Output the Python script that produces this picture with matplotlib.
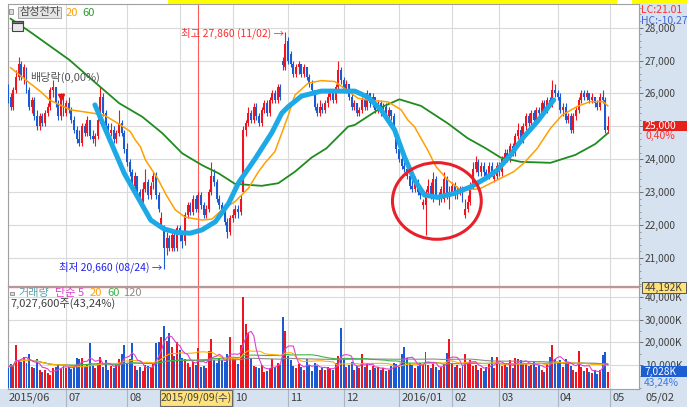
import matplotlib.pyplot as plt
import matplotlib.patches as mpatches
import matplotlib.transforms as mtransforms
from matplotlib.ticker import FuncFormatter, MultipleLocator
import numpy as np
import pandas as pd

# ==========================================
# 1. 데이터 (차트에서 읽은 값, 일봉 2015/06 ~ 2016/04)
# ==========================================
opens = [
    26100, 25900, 25600, 26100, 26500, 26900, 26500, 26700, 26100, 25600, 25800, 25300, 25000, 25300, 25100, 25400, 25600, 26100, 26200, 25700, 25300, 25900,
    25400, 25700, 25500, 25200, 24900, 24600, 24500, 25000, 24800, 25200, 24700, 24600, 24700, 25200, 25900, 25400, 25000, 24800, 24900, 24600, 24800, 25100, 24800,
    24300, 23900, 23600, 23200, 23500, 23000, 22700, 23100, 23300, 22900, 23300, 23500, 22900, 22000, 21900, 21300, 21600, 21300, 21700, 21300,
    21900, 21700, 21500, 22300, 22600, 22400, 22800, 22500, 22900, 22600, 22300, 22500, 23000, 23500, 23300, 22800, 22600, 22400, 22100, 21800,
    22200, 22300, 22500, 22400, 23000, 24900, 25100, 25400, 25200, 25600, 25300, 25100, 25500, 25700, 25400, 25800, 26000, 25800, 26200, 27000, 26800,
    27600, 27200, 26900, 26600, 26800, 26900, 26600, 26800, 26500, 26300, 26100, 25600, 25400, 25600, 25500, 25700, 25900, 26000, 25800, 26200, 26700,
    26400, 26100, 26300, 25900, 25600, 25700, 25400, 25500, 25800, 25600, 26000, 25700, 25900, 25500, 25700, 25400, 25600, 25300, 25500, 25300, 24800,
    24300, 24000, 23800, 23700, 23500, 23200, 23100, 23300, 23000, 22600, 22600, 23000, 23200, 22800, 23400, 22900, 22800, 22800, 23400, 22900,
    23000, 23200, 22900, 23000, 23100, 22300, 22500, 22700, 23200, 23700, 23900, 23600, 23800, 23600, 23500, 23800, 23400, 23500,
    23800, 23600, 24000, 24200, 24000, 24400, 24200, 24700, 24900, 24600, 25000, 25300, 25100, 25400, 25200, 25500, 25400, 25700, 25500, 25800, 25700, 26100,
    26000, 25900, 25500, 25600, 25200, 25300, 24900, 25300, 25500, 25800, 26000, 25900, 26000, 25800, 25900, 25700, 25600, 25900, 25800, 24900,
]
highs = [
    26300, 26000, 26200, 26700, 27100, 27000, 26900, 26800, 26200, 25900, 25900, 25500, 25400, 25400, 25500, 25700, 26200, 26400, 26200, 25800, 26000, 26000,
    25800, 25900, 25600, 25300, 25000, 24900, 25100, 25100, 25300, 25200, 24900, 24800, 25300, 26200, 26000, 25500, 25100, 25100, 25000, 24900, 25500, 25200, 24900,
    24500, 24000, 23700, 23600, 23500, 23100, 23300, 23700, 23400, 23300, 23600, 23600, 23000, 22400, 22000, 21800, 21700, 21800, 21800, 22000,
    22000, 21800, 22400, 22700, 22700, 22900, 22900, 23000, 23000, 22700, 22600, 23100, 23900, 23700, 23400, 22900, 22700, 22500, 22200, 22300,
    22500, 22600, 22600, 22900, 25000, 25200, 25600, 25500, 25700, 25700, 25400, 25600, 25800, 25800, 25900, 26100, 26100, 26300, 26300, 27100, 27860,
    27700, 27300, 27000, 26900, 27000, 26900, 26900, 26800, 26600, 26400, 26100, 25700, 25800, 25700, 25800, 26000, 26100, 26100, 26300, 27000, 26800,
    26500, 26400, 26300, 26000, 25800, 25700, 25600, 25900, 25900, 26100, 26000, 26000, 25900, 25800, 25800, 25700, 25700, 25600, 25500, 25400, 24900,
    24400, 24200, 24000, 23800, 23600, 23400, 23500, 23400, 23200, 22800, 23100, 23400, 23300, 23600, 23500, 23000, 23200, 23600, 23500, 23200,
    23300, 23300, 23200, 23200, 23200, 22800, 22900, 23300, 23900, 24100, 24000, 23900, 23900, 23700, 23900, 23900, 23700, 23900,
    23900, 24100, 24300, 24300, 24500, 24500, 24800, 25100, 25000, 25100, 25400, 25400, 25500, 25500, 25600, 25600, 25800, 25800, 25900, 25900, 26400, 26300,
    26100, 26000, 25700, 25700, 25400, 25400, 25400, 25600, 25900, 26100, 26100, 26100, 26000, 26000, 25900, 25800, 26000, 26100, 25900, 25300,
]
lows = [
    25700, 25500, 25500, 26000, 26400, 26400, 26300, 26000, 25500, 25400, 25200, 24900, 24900, 25000, 25000, 25300, 25500, 25900, 25600, 25200, 25200, 25300,
    25300, 25400, 25100, 24800, 24500, 24400, 24400, 24700, 24700, 24600, 24500, 24400, 24600, 25100, 25300, 24900, 24700, 24700, 24500, 24500, 24700, 24700, 24200,
    23800, 23500, 23100, 23100, 22900, 22600, 22600, 23000, 22800, 22800, 23100, 22800, 22400, 21900, 20660, 21100, 21200, 21200, 21200, 21200,
    21500, 21300, 21400, 22200, 22300, 22300, 22400, 22400, 22500, 22200, 22200, 22400, 22900, 23200, 22700, 22500, 22300, 22000, 21600, 21700,
    22100, 22200, 22200, 22300, 23000, 24700, 25000, 25100, 25100, 25200, 25000, 25000, 25400, 25300, 25300, 25700, 25700, 25700, 25800, 26700, 26700,
    26900, 26800, 26500, 26500, 26600, 26500, 26500, 26400, 26200, 26000, 25500, 25300, 25300, 25400, 25400, 25600, 25800, 25700, 25700, 26100, 26300,
    26000, 26000, 25800, 25500, 25500, 25300, 25300, 25400, 25500, 25500, 25600, 25600, 25400, 25400, 25300, 25300, 25200, 25200, 25200, 24700, 24200,
    23900, 23700, 23600, 23400, 23100, 23000, 23000, 22900, 22800, 22500, 21700, 22900, 22800, 22700, 22800, 22600, 22700, 22700, 22800, 22500,
    22900, 22800, 22800, 22900, 22700, 22200, 22400, 22600, 23100, 23600, 23500, 23500, 23500, 23400, 23400, 23500, 23300, 23400,
    23500, 23500, 23900, 23900, 23900, 24100, 24100, 24600, 24500, 24500, 24900, 25000, 25000, 25100, 25100, 25300, 25300, 25400, 25400, 25600, 25600, 25900,
    25800, 25400, 25300, 25100, 25100, 24800, 24800, 25200, 25400, 25700, 25800, 25800, 25700, 25700, 25600, 25500, 25500, 25700, 24800, 24800,
]
closes = [
    25800, 25600, 26100, 26500, 26900, 26500, 26800, 26100, 25600, 25800, 25300, 25000, 25300, 25100, 25400, 25600, 26100, 26200, 25700, 25300, 25900, 25400,
    25700, 25500, 25200, 24900, 24600, 24500, 25000, 24800, 25200, 24700, 24600, 24700, 25200, 25900, 25400, 25000, 24800, 24900, 24600, 24800, 25100, 24800, 24300,
    23900, 23600, 23200, 23500, 23000, 22700, 23100, 23300, 22900, 23200, 23500, 22900, 22500, 22200, 21300, 21600, 21300, 21700, 21300, 21900,
    21700, 21500, 22300, 22600, 22400, 22800, 22500, 22900, 22600, 22300, 22500, 23000, 23500, 23300, 22800, 22600, 22400, 22100, 21800, 22200,
    22300, 22500, 22400, 22800, 24900, 25100, 25400, 25200, 25600, 25300, 25100, 25500, 25700, 25400, 25800, 26000, 25800, 26200, 25900, 26850, 27500,
    27000, 26900, 26600, 26800, 26900, 26600, 26800, 26500, 26300, 26100, 25600, 25400, 25600, 25500, 25700, 25900, 26000, 25800, 26200, 26700, 26400,
    26100, 26300, 25900, 25600, 25700, 25400, 25500, 25800, 25600, 26000, 25700, 25900, 25500, 25700, 25400, 25600, 25300, 25500, 25300, 24800, 24300,
    24000, 23800, 23700, 23500, 23200, 23100, 23300, 23000, 22900, 22700, 23000, 23200, 22900, 23400, 22900, 22800, 23100, 23400, 22900, 23000,
    23200, 22900, 23000, 23100, 22800, 22500, 22700, 23200, 23700, 23900, 23600, 23800, 23600, 23500, 23800, 23600, 23500, 23800,
    23600, 24000, 24200, 24000, 24400, 24200, 24700, 24900, 24600, 25000, 25300, 25100, 25400, 25200, 25500, 25400, 25700, 25500, 25800, 25700, 26100, 26000,
    25900, 25500, 25600, 25200, 25300, 24900, 25300, 25500, 25800, 26000, 25900, 26000, 25800, 25900, 25700, 25600, 25900, 25800, 24900, 25000,
]
# 거래량 (천주, K)
volumes = [
    9000, 10500, 9500, 18800, 12000, 11500, 13500, 11000, 14800, 9000, 8500, 12500, 7800, 7000, 8000, 6500, 5600, 8500, 9000, 10000, 8800, 9500,
    8500, 9000, 8200, 9500, 13000, 12500, 13000, 9500, 10500, 19700, 10000, 8500, 11000, 13500, 9000, 12000, 8000, 9500, 8500, 10000, 12500, 14800, 18800,
    11000, 12500, 19800, 9500, 8000, 9000, 7500, 10000, 9500, 8500, 10500, 19800, 20000, 22300, 27300, 20500, 24000, 18000, 14000, 20000,
    16600, 13000, 12500, 11000, 9000, 11500, 10000, 17500, 9100, 9500, 8800, 16300, 21400, 12000, 11000, 13000, 12000, 11500, 15000, 22300,
    13000, 12500, 10500, 18800, 40000, 28000, 24100, 13000, 9500, 9000, 8500, 10000, 7000, 7500, 8500, 12500, 9000, 11000, 10000, 31100, 25000,
    14100, 12000, 9500, 8500, 10500, 9000, 8000, 12500, 10000, 7500, 11000, 9500, 8000, 8500, 7800, 9000, 8500, 8000, 11000, 14000, 26300,
    12500, 9000, 10000, 11500, 8000, 9500, 8500, 14900, 9000, 10500, 8000, 9500, 8500, 9000, 8000, 8500, 7500, 8000, 9500, 11000, 10500,
    9000, 14900, 18000, 13300, 11000, 10000, 8500, 9500, 11000, 10500, 15800, 10000, 8500, 11000, 9000, 8000, 9000, 10500, 15300, 21500,
    11000, 9000, 10000, 8500, 9500, 14900, 11000, 12000, 9500, 10000, 8000, 8500, 7500, 9000, 11000, 13600, 8500, 13600,
    11000, 9500, 10000, 9000, 12000, 8500, 13200, 12500, 12000, 10500, 11000, 9500, 10000, 11500, 9000, 10000, 8000, 7000, 10500, 13600, 18800, 12500,
    11500, 12000, 9000, 12500, 11500, 9500, 8000, 7000, 16300, 9000, 7500, 8500, 7000, 6500, 8000, 6000, 8000, 14400, 15900, 7028,
]

# 이동평균선 (차트에서 읽은 점: 봉 번호, 가격)
ma20_idx = [1.0, 7.5, 12.4, 15.7, 23.7, 31.3, 36.4, 42.6, 46.3, 48.2, 50.1, 52.0, 56.5, 59.9, 63.3, 67.0, 73.4, 77.2, 81.0,
            85.9, 91.0, 94.8, 97.2, 101.0, 103.6, 106.1, 108.6, 113.6, 118.6, 123.7, 129.9, 132.5, 136.2, 143.9, 148.8,
            151.3, 153.8, 158.8, 162.0, 166.4, 171.4, 178.5, 185.2, 191.4, 195.2, 200.3, 205.3, 209.7, 215.3, 220.3,
            225.3, 227.0]
ma20_val = [26780, 26360, 26050, 25800, 25500, 25410, 25340, 25040, 24840, 24580, 24380, 23980, 23430, 22910, 22460, 22240,
            22150, 22180, 22460, 22710, 23120, 23620, 23880, 24230, 24790, 25340, 25950, 26310, 26390, 26360, 26000, 25850,
            25800, 25740, 25500, 25190, 24990, 24280, 23770, 23370, 23060, 23100, 23370, 23620, 23880, 24330, 24940, 25340,
            25600, 25750, 25750, 25620]
ma60_idx = [1.0, 8.2, 23.2, 33.3, 42.1, 50.8, 58.4, 65.9, 73.4, 79.7, 85.9, 96.0, 102.3, 108.6, 114.9, 120.5, 128.7,
            131.2, 141.9, 148.1, 156.3, 166.4, 168.9, 173.9, 180.8, 186.4, 194.0, 205.3, 214.7, 222.2, 227.0]
ma60_val = [28270, 27880, 27020, 26310, 25700, 25290, 24790, 24180, 23820, 23570, 23250, 23190, 23270, 23620, 24050, 24330,
            24990, 25040, 25600, 25820, 25620, 25090, 24940, 24640, 24330, 24050, 23920, 23890, 24130, 24460, 24790]

# 손으로 그린 추세 곡선과 원
trend_idx = [32.9, 36.4, 40.2, 44.0, 49.0, 54.0, 59.0, 64.0, 68.9, 73.4, 78.5, 83.5, 87.3, 93.5, 99.8, 103.6, 106.1,
             111.1, 118.6, 131.2, 136.2, 141.2, 146.3, 150.0, 153.8, 157.6, 162.6, 168.9, 175.1, 180.8, 185.2, 190.2,
             195.2, 200.3, 206.5]
trend_val = [25650, 24990, 24280, 23570, 22860, 22150, 21880, 21770, 21750, 21850, 22100, 22660, 23290, 24010, 24800,
             25400, 25600, 25920, 26070, 26070, 25890, 25500, 24890, 24080, 23370, 22910, 22840, 22960, 23160, 23420,
             23670, 24130, 24680, 25140, 25800]
circle_center = (162.3, 22730)
circle_size = (33.6, 2330)

month_idx = [0, 22, 45, 65, 85, 106, 127, 148, 168, 186, 208, 228]
month_labels = ['2015/06', '07', '08', '', '10', '11', '12', '2016/01', '02', '03', '04', '05']
cursor_idx = 72
cursor_label = '2015/09/09(수)'
cursor_volume = 44192
last_price = 25000
high_idx, high_price = 105, 27860
low_idx, low_price = 59, 20660
exdiv_idx, exdiv_price = 20, 25890

# ==========================================
# 2. 기본 설정
# ==========================================
W, H = 687, 407
RED = '#f0141e'
BLUE = '#1a5ad2'
PANEL = '#d6e2f0'
GRID = '#dadada'
SPINE = '#a0a0a0'
TXT = '#404040'

plt.rcParams['font.family'] = ['Noto Sans CJK KR', 'DejaVu Sans']
plt.rcParams['axes.unicode_minus'] = False

fig = plt.figure(figsize=(W / 100, H / 100), dpi=100)


def rect(x0, y0, x1, y1):
    return [x0 / W, 1 - y1 / H, (x1 - x0) / W, (y1 - y0) / H]


def ftext(x, y, s, **kw):
    kw.setdefault('va', 'center')
    kw.setdefault('zorder', 6)
    return fig.text(x / W, 1 - y / H, s, **kw)


def fbox(x0, y0, x1, y1, **kw):
    kw.setdefault('zorder', 5)
    fig.add_artist(mpatches.Rectangle((x0 / W, 1 - y1 / H), (x1 - x0) / W, (y1 - y0) / H,
                                      transform=fig.transFigure, **kw))


# 오른쪽 눈금 영역, 아래 날짜 영역, 위쪽 노란 띠
fbox(639, 4, 687, 389, fc=PANEL, ec='none', zorder=-2)
fbox(0, 389, 687, 407, fc=PANEL, ec='none', zorder=-2)
fbox(168, 0, 617, 3.5, fc='#ffff00', ec='none', zorder=-2)
fbox(632, 0, 687, 3.5, fc='#ffff00', ec='none', zorder=-2)

axp = fig.add_axes(rect(8, 4, 639, 285.5))
axv = fig.add_axes(rect(8, 285.5, 639, 389))
xl = ((8 - 5) / 2.655, (639 - 5) / 2.655)

idx = np.arange(len(closes))
o = np.array(opens)
c = np.array(closes)
colors = np.where(c >= o, RED, BLUE)

# ==========================================
# 3. 가격 차트
# ==========================================
axp.vlines(idx, lows, highs, colors=colors, lw=0.8, zorder=3)
axp.bar(idx, np.maximum(np.abs(c - o), 30), width=0.75, bottom=np.minimum(o, c), color=colors, lw=0, zorder=3)
axp.plot(ma60_idx, ma60_val, color='#1e8c1e', lw=1.3, zorder=4)
axp.plot(ma20_idx, ma20_val, color='#ffa000', lw=1.1, zorder=4)
axp.plot(trend_idx, trend_val, color='#1ca9e6', lw=3.6, solid_capstyle='round', solid_joinstyle='round', zorder=5)
axp.add_patch(mpatches.Ellipse(circle_center, circle_size[0], circle_size[1], fill=False, ec='#e8202a', lw=2.2, zorder=6))
axp.axvline(cursor_idx, color='#ff5a5a', lw=0.8, zorder=2)

axp.plot([exdiv_idx], [exdiv_price], marker='v', ms=5, color='#ee1010', zorder=6)
axp.text(8.3, 26500, '배당락(0,00%)', color='#555555', fontsize=8, va='center', zorder=6)
axp.annotate('최고 27,860 (11/02) →', xy=(high_idx, high_price), xytext=(-1, -1), textcoords='offset points',
             ha='right', va='center', color='#ff2a2a', fontsize=7.5, zorder=6)
axp.annotate('최저 20,660 (08/24) →', xy=(low_idx, low_price), xytext=(-1, 1), textcoords='offset points',
             ha='right', va='center', color='#2020f0', fontsize=7.5, zorder=6)

axp.set_ylim(20160, 28718)
axp.set_yticks(range(21000, 29000, 1000))
axp.yaxis.set_minor_locator(MultipleLocator(200))
# 현재가 상자가 25,000 눈금 글자 자리를 차지함
axp.yaxis.set_major_formatter(FuncFormatter(lambda v, p: '' if v == last_price else f'{v:,.0f}'))

# ==========================================
# 4. 거래량 차트
# ==========================================
axv.bar(idx, volumes, width=0.75, color=colors, lw=0, zorder=3)
vs = pd.Series(volumes, dtype=float)
for n, col in [(120, '#8c8c8c'), (60, '#3cb44b'), (20, '#ffb000'), (5, '#e040d0')]:
    axv.plot(idx, vs.rolling(n, min_periods=1).mean(), color=col, lw=0.8, zorder=4)
axv.axvline(cursor_idx, color='#ff5a5a', lw=0.8, zorder=2)
axv.axhline(cursor_volume, color='#ff7a7a', lw=1.0, zorder=5)
axv.set_ylim(-573, 45022)
axv.set_yticks([10000, 20000, 30000, 40000])
axv.yaxis.set_minor_locator(MultipleLocator(5000))
axv.yaxis.set_major_formatter(FuncFormatter(lambda v, p: f'{v:,.0f}K'))

for ax in (axp, axv):
    ax.set_xlim(*xl)
    ax.set_xticks(month_idx)
    ax.grid(True, color=GRID, lw=0.8, zorder=0)
    ax.set_axisbelow(True)
    ax.yaxis.tick_right()
    ax.tick_params(axis='x', length=0, labelbottom=False)
    ax.tick_params(axis='y', which='major', direction='out', length=3, width=0.7, color='#707070',
                   labelsize=7.3, labelcolor=TXT, pad=1.2)
    ax.tick_params(axis='y', which='minor', direction='out', length=1.6, width=0.6, color='#8a8a8a')
    for s in ax.spines.values():
        s.set_color(SPINE)
        s.set_linewidth(0.8)

# 날짜 눈금 (아래 띠)
trans = mtransforms.blended_transform_factory(axv.transData, fig.transFigure)
for m, lab in zip(month_idx, month_labels):
    if m > 0:
        axv.plot([m, m], [0, 18 / H], transform=trans, color='#a9b5c6', lw=0.8, clip_on=False)
        if lab:
            axv.text(m + 0.8, 1 - 398 / H, lab, transform=trans, ha='left', va='center', fontsize=8,
                     color=TXT, clip_on=False)
ftext(9, 398, month_labels[0], fontsize=8, color=TXT)
ftext(645, 398, '05/02', fontsize=8, color=TXT)
fbox(160, 390, 232, 406, fc='#ffe27a', ec='#666666', lw=0.8)
ftext(196, 398, cursor_label, ha='center', fontsize=7.5, color=TXT)

# ==========================================
# 5. 범례, 라벨
# ==========================================
fbox(9, 9, 13.5, 13.5, fc='#dddddd', ec='#888888', lw=0.6)
fbox(18, 7, 61, 17.5, fc='#e4e4e4', ec='#9a9a9a', lw=0.6)
ftext(20, 12.5, '삼성전자', fontsize=8, color='#505050')
ftext(66, 12.5, '20', fontsize=8, color='#ffa000')
ftext(82, 12.5, '60', fontsize=8, color='#2f9a2f')
fbox(12.5, 20.5, 22.5, 30.5, fc='#e8e8e8', ec='#444444', lw=0.8)
fbox(12.5, 20.5, 22.5, 23, fc='#777777', ec='#444444', lw=0.8)

ftext(641, 10, 'LC:21.01', fontsize=7.5, color='#ff3030')
ftext(641, 20.5, 'HC:-10.27', fontsize=7.5, color='#3f66d8')
fbox(643, 121, 687, 130.5, fc='#e8201c', ec='none')
ftext(645, 126, f'{last_price:,}', fontsize=7.5, color='white')
ftext(645, 135.5, '0,40%', fontsize=7.5, color='#ff3030')

fbox(642, 282, 686, 292.5, fc='#ffe27a', ec='#555555', lw=0.7)
ftext(644.5, 287.5, '44,192K', fontsize=7.3, color=TXT)
fbox(641, 366, 687, 377, fc='#1d5fd0', ec='none')
ftext(644, 371.5, '7,028K', fontsize=7.3, color='white')
ftext(644, 382.5, '43,24%', fontsize=7.3, color='#3a78e8')

fbox(10, 291.5, 13.5, 295, fc='#dddddd', ec='#888888', lw=0.6)
ftext(18, 293, '거래량', fontsize=8, color='#5fa0a8')
ftext(55, 293, '단순 5', fontsize=8, color='#e040d0')
ftext(90, 293, '20', fontsize=8, color='#ffa000')
ftext(107, 293, '60', fontsize=8, color='#3cb44b')
ftext(123, 293, '120', fontsize=8, color='#8c8c8c')
ftext(10, 303.5, '7,027,600주(43,24%)', fontsize=8, color='#404040')

fig.savefig('out.png', dpi=100)
